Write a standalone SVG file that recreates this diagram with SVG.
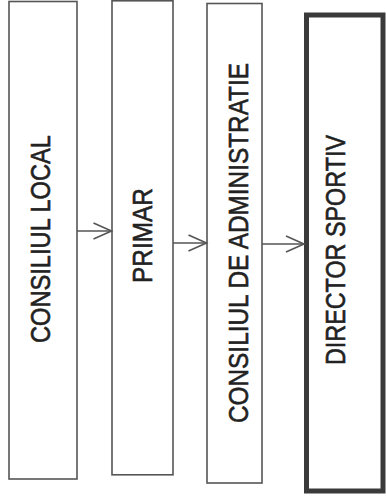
<svg xmlns="http://www.w3.org/2000/svg" width="386" height="498" viewBox="0 0 386 498">
<defs>
<style>
.box{fill:#fff;stroke:#555;stroke-width:1.6}
.thick{fill:#fff;stroke:#3a3a3a;stroke-width:5}
.lbl{font-family:"Liberation Sans",Arial,sans-serif;font-size:28px;fill:#222;stroke:#222;stroke-width:0.6;text-anchor:middle}
.conn{stroke:#555;stroke-width:1.6;fill:none}
</style>
<marker id="arr" markerUnits="userSpaceOnUse" markerWidth="24" markerHeight="24" viewBox="-20 -12 24 24" refX="0" refY="0" orient="auto">
<polyline points="-18,-8 0,0 -18,8" fill="none" stroke="#555" stroke-width="1.6"/>
</marker>
</defs>
<rect width="386" height="498" fill="#fff"/>
<g id="n1">
<rect class="box" x="9" y="1.5" width="68" height="477.5"/>
<text class="lbl" transform="translate(50,239) rotate(-90)" textLength="208" lengthAdjust="spacingAndGlyphs">CONSILIUL LOCAL</text>
</g>
<g id="n2">
<rect class="box" x="112" y="0.8" width="61" height="474"/>
<text class="lbl" transform="translate(152,235.5) rotate(-90)" textLength="95" lengthAdjust="spacingAndGlyphs">PRIMAR</text>
</g>
<g id="n3">
<rect class="box" x="207" y="3.5" width="55" height="479.5"/>
<text class="lbl" transform="translate(248,243) rotate(-90)" textLength="360" lengthAdjust="spacingAndGlyphs">CONSILIUL DE ADMINISTRATIE</text>
</g>
<g id="n4">
<rect class="thick" x="306.5" y="15" width="76.5" height="476"/>
<text class="lbl" transform="translate(345,250) rotate(-90)" textLength="230" lengthAdjust="spacingAndGlyphs">DIRECTOR SPORTIV</text>
</g>
<g id="connectors">
<line class="conn" x1="77" y1="231" x2="111.5" y2="231" marker-end="url(#arr)"/>
<line class="conn" x1="173" y1="243" x2="206.5" y2="243" marker-end="url(#arr)"/>
<line class="conn" x1="262" y1="244" x2="304" y2="244" marker-end="url(#arr)"/>
</g>
</svg>
